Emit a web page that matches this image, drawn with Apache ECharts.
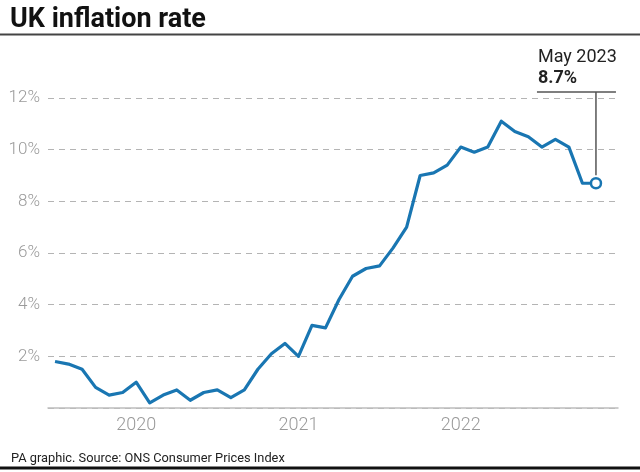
<!DOCTYPE html>
<html><head><meta charset="utf-8">
<script src="https://cdn.jsdelivr.net/npm/echarts@6/dist/echarts.min.js"></script>
<style>html,body{margin:0;padding:0;background:#fff}#c{width:640px;height:472px}</style>
</head><body><div id="c"></div>
<script>
const months = [
  'Jan 2020','Feb 2020','Mar 2020','Apr 2020','May 2020','Jun 2020','Jul 2020','Aug 2020','Sep 2020','Oct 2020','Nov 2020','Dec 2020',
  'Jan 2021','Feb 2021','Mar 2021','Apr 2021','May 2021','Jun 2021','Jul 2021','Aug 2021','Sep 2021','Oct 2021','Nov 2021','Dec 2021',
  'Jan 2022','Feb 2022','Mar 2022','Apr 2022','May 2022','Jun 2022','Jul 2022','Aug 2022','Sep 2022','Oct 2022','Nov 2022','Dec 2022',
  'Jan 2023','Feb 2023','Mar 2023','Apr 2023','May 2023'
];
const cpi = [
  1.8,1.7,1.5,0.8,0.5,0.6,1.0,0.2,0.5,0.7,0.3,0.6,
  0.7,0.4,0.7,1.5,2.1,2.5,2.0,3.2,3.1,4.2,5.1,5.4,
  5.5,6.2,7.0,9.0,9.1,9.4,10.1,9.9,10.1,11.1,10.7,10.5,
  10.1,10.4,10.1,8.7,8.7
];
const yearLabels = ['2020','2021','2022'];
const yearLabelMonths = ['Jul 2020','Jul 2021','Jul 2022'];
const yMax = 12;
const yStep = 2;

const BLUE = '#1976b2';
const chart = echarts.init(document.getElementById('c'), null, {renderer:'canvas'});
const lastIdx = cpi.length - 1;
const labelIdx = yearLabelMonths.map(m => months.indexOf(m));

chart.setOption({
  animation: false,
  backgroundColor: '#fff',
  title: [{
    text: 'UK inflation rate', left: 5, top: 2,
    textStyle: {fontFamily: 'Roboto', fontWeight: 'bold', fontSize: 27, color: '#111'}
  }, {
    text: 'PA graphic. Source: ONS Consumer Prices Index', left: 6, top: 447,
    textStyle: {fontFamily: 'Roboto', fontWeight: 'normal', fontSize: 12.8, color: '#222'}
  }],
  grid: {left: 48, right: 22, top: 98, bottom: 64, containLabel: false},
  xAxis: {
    type: 'value', min: -0.52, max: lastIdx + 1.63,
    axisLine: {show: true, lineStyle: {color: '#bdbdbd', width: 1.5}},
    axisTick: {show: false},
    splitLine: {show: false},
    axisLabel: {
      customValues: labelIdx,
      formatter: v => { const k = labelIdx.indexOf(Math.round(v)); return k >= 0 ? yearLabels[k] : ''; },
      color: '#9a9a9a', fontFamily: 'Roboto', fontWeight: 300, fontSize: 18, margin: 8
    }
  },
  yAxis: {
    type: 'value', min: 0, max: yMax, interval: yStep,
    axisLine: {show: false}, axisTick: {show: false},
    axisLabel: {
      formatter: v => v === 0 ? '' : v + '%',
      color: '#9a9a9a', fontFamily: 'Roboto', fontWeight: 300, fontSize: 17, margin: 8
    },
    splitLine: {show: true, lineStyle: {color: '#b4b4b4', type: [6, 5], width: 1}}
  },
  series: [{
    type: 'line',
    data: cpi.map((v, i) => i === lastIdx
      ? {value: [i, v], symbol: 'circle', symbolSize: 10, itemStyle: {color: '#fff', borderColor: BLUE, borderWidth: 2.5}}
      : {value: [i, v], symbol: 'none'}),
    showSymbol: true,
    lineStyle: {color: BLUE, width: 3.2, join: 'round'},
    itemStyle: {color: BLUE},
    z: 5
  }]
});

const pLast = chart.convertToPixel({gridIndex: 0}, [lastIdx, cpi[lastIdx]]);
const pTop = chart.convertToPixel({gridIndex: 0}, [lastIdx, yMax + 0.23]);
chart.setOption({
  graphic: [
    {type: 'line', shape: {x1: 0, y1: 34.5, x2: 640, y2: 34.5}, style: {stroke: '#444', lineWidth: 2}},
    {type: 'line', shape: {x1: 0, y1: 468, x2: 640, y2: 468}, style: {stroke: '#111', lineWidth: 3}},
    {type: 'line', z: 10, shape: {x1: pLast[0], y1: pTop[1], x2: pLast[0], y2: pLast[1] - 8}, style: {stroke: '#555', lineWidth: 1.5}},
    {type: 'line', z: 10, shape: {x1: pLast[0] - 59, y1: pTop[1], x2: pLast[0] + 20, y2: pTop[1]}, style: {stroke: '#555', lineWidth: 1.5}},
    {type: 'text', z: 10, x: pLast[0] - 58, y: pTop[1] - 44, style: {text: months[lastIdx], fontFamily: 'Roboto', fontSize: 18, fill: '#222'}},
    {type: 'text', z: 10, x: pLast[0] - 58, y: pTop[1] - 23, style: {text: cpi[lastIdx] + '%', fontFamily: 'Roboto', fontWeight: 'bold', fontSize: 18, fill: '#222'}}
  ]
});
</script></body></html>
